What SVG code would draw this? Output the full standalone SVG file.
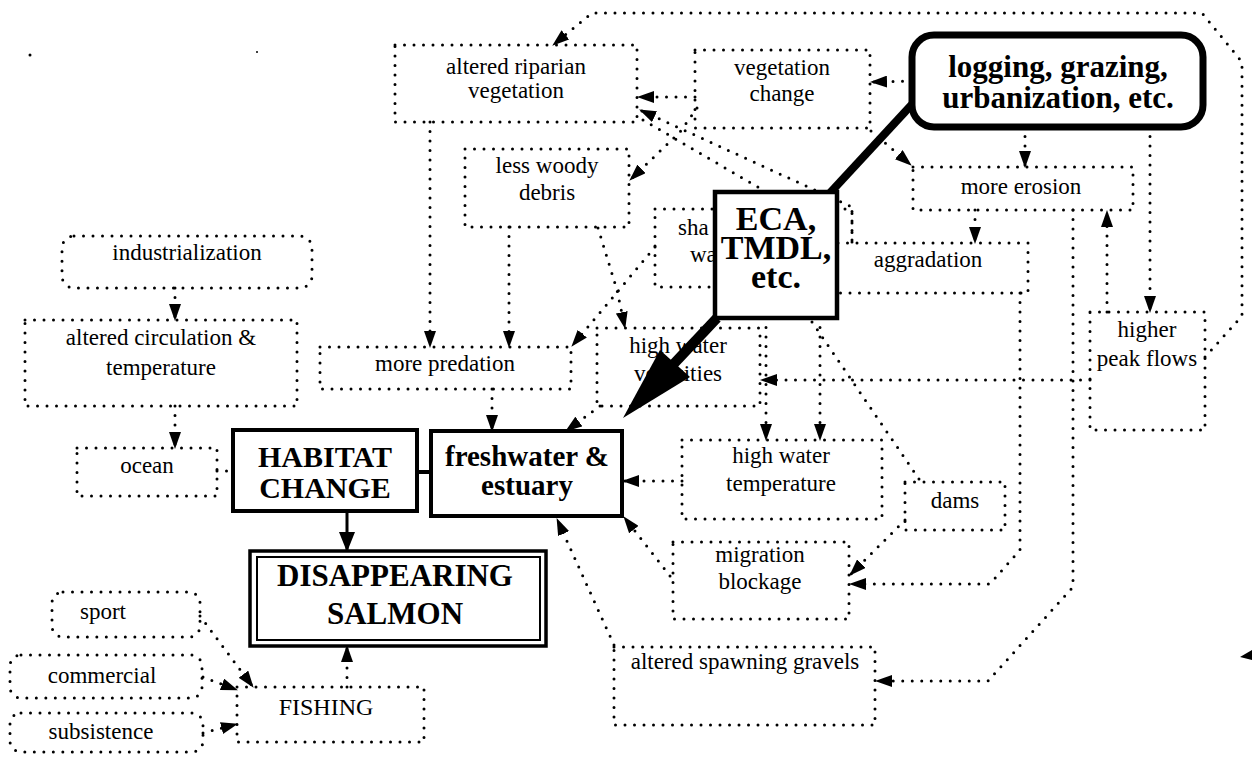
<svg xmlns="http://www.w3.org/2000/svg" width="1252" height="759" viewBox="0 0 1252 759">
  <style>
    .db { fill: #fff; stroke: #000; stroke-width: 3; stroke-dasharray: 0 9.5; stroke-linecap: round; }
    .dl { fill: none; stroke: #000; stroke-width: 3; stroke-dasharray: 0 9.5; stroke-linecap: round; stroke-linejoin: round; marker-end: url(#ah); }
    .dn { fill: none; stroke: #000; stroke-width: 3; stroke-dasharray: 0 9.5; stroke-linecap: round; }
    .sb { fill: #fff; stroke: #000; stroke-width: 4; }
    .t { font-family: "Liberation Serif", "Times New Roman", serif; font-size: 23px; fill: #000; text-anchor: middle; }
    .b { font-family: "Liberation Serif", "Times New Roman", serif; font-weight: bold; fill: #000; text-anchor: middle; }
  </style>
  <defs>
    <marker id="ah" viewBox="0 0 17 12" refX="16" refY="6" markerWidth="17" markerHeight="12" markerUnits="userSpaceOnUse" orient="auto">
      <path d="M0,0 L17,6 L0,12 Z" fill="#000" stroke="none"/>
    </marker>
    <marker id="ahb" viewBox="0 0 20 16" refX="19" refY="8" markerWidth="20" markerHeight="16" markerUnits="userSpaceOnUse" orient="auto">
      <path d="M0,0 L20,8 L0,16 Z" fill="#000" stroke="none"/>
    </marker>
  </defs>
  <rect width="1252" height="759" fill="#fff"/>

  <!-- dotted boxes -->
  <g id="riparian">
    <rect class="db" x="395" y="45" width="242" height="77"/>
    <text class="t" x="516" y="74">altered riparian</text>
    <text class="t" x="516" y="98">vegetation</text>
  </g>
  <g id="vegetation-change">
    <rect class="db" x="695" y="50" width="175" height="78"/>
    <text class="t" x="782" y="75">vegetation</text>
    <text class="t" x="782" y="101">change</text>
  </g>
  <g id="woody-debris">
    <rect class="db" x="465" y="149" width="164" height="78"/>
    <text class="t" x="547" y="173">less woody</text>
    <text class="t" x="547" y="200">debris</text>
  </g>
  <g id="more-erosion">
    <rect class="db" x="913" y="167" width="220" height="43"/>
    <text class="t" x="1021" y="194">more erosion</text>
  </g>
  <g id="shallow-water">
    <rect class="db" x="655" y="209" width="197" height="78"/>
    <text class="t" x="678" y="235" style="text-anchor:start">sha</text>
    <text class="t" x="690" y="262" style="text-anchor:start">wa</text>
  </g>
  <g id="aggradation">
    <rect class="db" x="800" y="243" width="228" height="50"/>
    <text class="t" x="928" y="267">aggradation</text>
  </g>
  <g id="industrialization">
    <rect class="db" x="62" y="236" width="250" height="52" rx="12"/>
    <text class="t" x="187" y="260">industrialization</text>
  </g>
  <g id="circulation">
    <rect class="db" x="25" y="320" width="272" height="86"/>
    <text class="t" x="161" y="345">altered circulation &amp;</text>
    <text class="t" x="161" y="375">temperature</text>
  </g>
  <g id="more-predation">
    <rect class="db" x="320" y="347" width="251" height="42"/>
    <text class="t" x="445" y="371">more predation</text>
  </g>
  <g id="velocities">
    <rect class="db" x="597" y="328" width="163" height="78"/>
    <text class="t" x="678" y="353">high water</text>
    <text class="t" x="678" y="381">velocities</text>
  </g>
  <g id="peak-flows">
    <rect class="db" x="1090" y="312" width="115" height="118"/>
    <text class="t" x="1147" y="337">higher</text>
    <text class="t" x="1147" y="366">peak flows</text>
  </g>
  <g id="ocean">
    <rect class="db" x="77" y="448" width="140" height="48"/>
    <text class="t" x="147" y="473">ocean</text>
  </g>
  <g id="temperature">
    <rect class="db" x="682" y="440" width="200" height="79"/>
    <text class="t" x="781" y="463">high water</text>
    <text class="t" x="781" y="491">temperature</text>
  </g>
  <g id="dams">
    <rect class="db" x="905" y="482" width="100" height="48"/>
    <text class="t" x="955" y="508">dams</text>
  </g>
  <g id="migration">
    <rect class="db" x="673" y="542" width="176" height="77"/>
    <text class="t" x="760" y="562">migration</text>
    <text class="t" x="760" y="589">blockage</text>
  </g>
  <g id="spawning">
    <rect class="db" x="614" y="647" width="261" height="78"/>
    <text class="t" x="745" y="669">altered spawning gravels</text>
  </g>
  <g id="fishing">
    <rect class="db" x="237" y="687" width="187" height="55"/>
    <text class="t" x="326" y="715" style="font-size:24px">FISHING</text>
  </g>
  <g id="sport">
    <rect class="db" x="52" y="592" width="148" height="45" rx="11"/>
    <text class="t" x="103" y="619">sport</text>
  </g>
  <g id="commercial">
    <rect class="db" x="10" y="655" width="192" height="43" rx="11"/>
    <text class="t" x="102" y="683">commercial</text>
  </g>
  <g id="subsistence">
    <rect class="db" x="10" y="713" width="193" height="39" rx="11"/>
    <text class="t" x="101" y="739">subsistence</text>
  </g>

  <!-- connectors -->
  <g id="connectors">
    <path class="dl" d="M695,97 L638,97"/>
    <path class="dl" d="M912,81 L871,82"/>
    <path class="dl" d="M1025,127 L1025,167"/>
    <path class="dl" d="M1150,127 L1150,312"/>
    <path class="dl" d="M1107,312 L1107,211"/>
    <path class="dl" d="M975,210 L975,243"/>
    <path class="dl" d="M871,131 L911,165"/>
    <path class="dl" d="M697,108 L680,132 L630,180"/>
    <path class="dl" d="M1205,357 L1242,316 L1242,62 L1202,13 L592,13 L553,45"/>
    <path class="dl" d="M852,242 L852,207 L640,110"/>
    <path class="dn" d="M643,120 L780,200"/>
    <path class="dl" d="M430,122 L430,347"/>
    <path class="dl" d="M509,227 L509,347"/>
    <path class="dl" d="M598,228 L617,290 L625,328"/>
    <path class="dl" d="M655,247 L572,346"/>
    <path class="dl" d="M492,389 L492,431"/>
    <path class="dl" d="M600,406 L566,431"/>
    <path class="dl" d="M766,318 L766,440"/>
    <path class="dl" d="M820,318 L820,440"/>
    <path class="dn" d="M812,322 L921,482"/>
    <path class="dl" d="M1090,380 L761,380"/>
    <path class="dl" d="M1020,293 L1020,550 L990,584 L850,584"/>
    <path class="dl" d="M1073,210 L1073,587 L988,681 L876,681"/>
    <path class="dl" d="M905,520 L850,575"/>
    <path class="dl" d="M682,481 L623,481"/>
    <path class="dl" d="M670,576 L624,517"/>
    <path class="dl" d="M614,645 L557,519"/>
    <path class="dl" d="M175,288 L175,320"/>
    <path class="dl" d="M175,406 L175,448"/>
    <path class="dn" d="M217,471 L233,471"/>
    <path class="dl" d="M347,687 L347,646"/>
    <path class="dl" d="M200,616 L253,687"/>
    <path class="dl" d="M203,677 L237,690"/>
    <path class="dl" d="M203,733 L237,724"/>
    <line x1="417" y1="472" x2="431" y2="472" stroke="#000" stroke-width="4"/>
    <line x1="347" y1="511" x2="347" y2="551" stroke="#000" stroke-width="3" marker-end="url(#ahb)"/>
    <line x1="916" y1="100" x2="829" y2="194" stroke="#000" stroke-width="8"/>
  </g>

  <!-- solid boxes -->
  <g id="logging">
    <rect x="912" y="35" width="291" height="92" rx="22" fill="#fff" stroke="#000" stroke-width="7"/>
    <text class="b" x="1058" y="77" style="font-size:31px">logging, grazing,</text>
    <text class="b" x="1058" y="108" style="font-size:31px">urbanization, etc.</text>
  </g>
  <g id="eca">
    <rect class="sb" x="715" y="192" width="122" height="126" style="stroke-width:4.5"/>
    <text class="b" x="776" y="230" style="font-size:34px">ECA,</text>
    <text class="b" x="776" y="259" style="font-size:34px">TMDL,</text>
    <text class="b" x="776" y="288" style="font-size:34px">etc.</text>
  </g>
  <g id="habitat">
    <rect class="sb" x="233" y="430" width="184" height="81"/>
    <text class="b" x="325" y="467" style="font-size:30px">HABITAT</text>
    <text class="b" x="325" y="498" style="font-size:30px">CHANGE</text>
  </g>
  <g id="freshwater">
    <rect class="sb" x="431" y="431" width="191" height="85"/>
    <text class="b" x="527" y="466" style="font-size:29px">freshwater &amp;</text>
    <text class="b" x="527" y="495" style="font-size:29px">estuary</text>
  </g>
  <g id="salmon">
    <rect x="250" y="551" width="296" height="95" fill="#fff" stroke="#000" stroke-width="3.5"/>
    <rect x="257" y="557" width="283" height="83" fill="none" stroke="#000" stroke-width="2"/>
    <text class="b" x="395" y="586" style="font-size:31px">DISAPPEARING</text>
    <text class="b" x="395" y="624" style="font-size:31px">SALMON</text>
  </g>

  <!-- thick arrow from ECA box -->
  <g id="eca-arrow">
    <line x1="717" y1="318" x2="668" y2="370" stroke="#000" stroke-width="10"/>
    <polygon points="623,418 660,350 690,377" fill="#000"/>
  </g>

  <!-- specks -->
  <circle cx="30" cy="55" r="1.5" fill="#000"/>
  <circle cx="257" cy="52" r="1" fill="#000"/>
  <polygon points="1240,657 1252,650 1252,660" fill="#000"/>
</svg>
